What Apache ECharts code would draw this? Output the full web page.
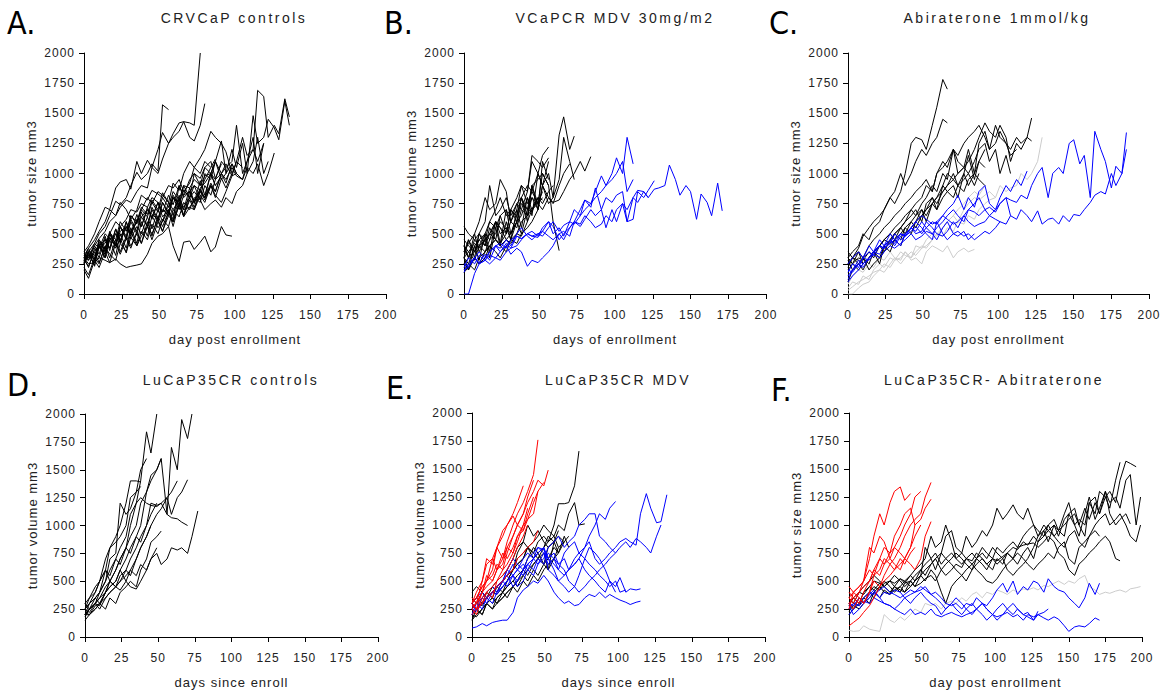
<!DOCTYPE html>
<html><head><meta charset="utf-8">
<script src="https://cdn.jsdelivr.net/npm/echarts@6/dist/echarts.min.js"></script>
<style>
html,body{margin:0;padding:0;background:#fff}
#c{width:1162px;height:690px}
#c svg text{letter-spacing:1px}
#c svg text[style*="14px"]{letter-spacing:2.5px}
#c svg text[style*="32px"]{letter-spacing:0}
</style>
</head><body><div id="c"></div>
<script>
// measurement days (shared by all tumours)
const DAYS = [0,3,7,10,14,17,21,24,28,31,35,38,42,45,49,52,56,59,63,66,70,73,77,80,84,87,91,94,98,101,105,108,112,115,119,122,126,129,133,136,140,143,147,150,154,157,161,164,168,171,175,178,182,185,189,192,196,199];

const X_TICKS = [0,25,50,75,100,125,150,175,200];
const Y_TICKS = [0,250,500,750,1000,1250,1500,1750,2000];

const PANEL_LETTERS = ['A.','B.','C.','D.','E.','F.'];
const PANEL_TITLES = ['CRVCaP controls','VCaPCR MDV 30mg/m2','Abiraterone 1mmol/kg','LuCaP35CR controls','LuCaP35CR MDV','LuCaP35CR- Abitraterone'];
const X_NAMES = ['day post enrollment','days of enrollment','day post enrollment','days since enroll','days since enroll','day post enrollment'];
const Y_NAMES = ['tumor size mm3','tumor volume mm3','tumor size mm3','tumor volume mm3','tumor volume mm3','tumor size mm3'];

// ---- Panel A (black) ----
const A_BLACK = [
 [300,380,450,520,600,700,880,930,950,870,1100,1000,1110,1050,1000,1120,1250,1330,1420,1430,1420,1400,2000],
 [280,350,420,500,560,650,770,740,800,900,1010,950,1000,1080,1020,1570,1530],
 [320,300,400,460,520,600,650,720,780,760,850,900,880,1050,1200,1340,1250,1300,1350,1430,1300,1270,1400,1580],
 [260,340,280,430,370,510,450,600,520,650,600,720,660,780,700,840,760,920,860,1000,1100,1050,1130,1200,1350,1300,1250,1180,1000,1100,1300,1150,1200,1690,1640,1300,1400,1330,1620,1470],
 [300,220,380,300,460,380,540,440,600,500,660,560,720,620,760,680,820,740,900,820,950,1000,960,1050,1000,1100,1270,1000,1200,1050,1250,1000,1480,1250,1300,1450,1380,1280,1600,1400],
 [250,320,260,400,330,470,400,560,480,650,580,700,640,760,680,800,720,850,780,900,880,950,900,980,1000,1100,950,1000,1080,1000,950,1050,1000,1080,900,1000,1170],
 [300,250,260,300,280,260,290,250,220,230,240,250,330,420,480,500,560,400,270,430,440,370,430,480,350,390,560,490,480],
 [220,160,300,250,400,300,450,350,480,400,500,420,600,480,650,560,680,600,800,650,850,760,870,800,1000,900,980],
 [350,400,500,600,720,700,650,760,700,620,700,820,780,860,830,800,900,880,950,850,920,1050,1000,1100,1050,1120],
 [280,350,300,450,380,500,420,560,460,600,500,640,560,700,600,760,660,800,700,820,850,750,880,920,1000,950,1100,1050,1100,1400,1000,1100,1300,1000,1250],
 [330,300,420,380,500,460,400,520,560,500,600,640,700,660,620,700,650,800,760,700,720,780,850,800,900,820,760,850,980,1000],
 [250,350,230,400,300,450,320,500,380,550,420,600,480,650,550,600,700,560,750,640,720,700,820,760,900,800,960,880,1000],
 [300,280,360,400,350,450,500,480,550,520,600,700,800,750,850,820,760,700,780,720,800,850,780,700,750,780,720,800,750,850,900,1000,1100,1300,1000,1100],
 [270,320,290,380,420,500,600,560,620,700,680,750,720,800,760,640,700,620,900,800,850,900,780,1000,950,1100,1000,1050],
 [200,130,280,220,350,260,420,330,460,380,520,420,560,500,620,520,650,600,740,650,780,700,850,800,920,850,1000,950,1050,980,950,1100,1200,1100,1250],
 [320,380,280,450,350,520,400,560,450,620,520,680,560,720,620,760,680,820,740,900,800,1000,900,1050,1100,960,1080],
 [260,330,240,420,300,500,380,460,340,520,400,480,560,450,600,520,680,600,740,650,800,720,860,780,900,850,1000,920,1080,1000],
 [340,280,400,330,480,360,540,420,600,460,560,500,640,540,700,600,760,650,820,700,880,760,940,820,1000,900],
 [280,230,350,260,390,330,280,420,350,470,400,520,450,580,500,620,560,700,640,760,700,800,760,900,820,950,1000,1080,980,1100,1050],
 [300,360,320,400,450,380,500,430,560,480,620,560,700,640,760,680,720,800,740,860,800,900,860,950,1050]
];

// ---- Panel B ----
const B_BLACK = [
 [400,300,450,500,600,900,650,700,800,650,750,700,850,1100,1000,1150,1220],
 [350,420,500,600,800,700,750,950,850,600,700,900,850,1150,1100,1050,1130],
 [200,250,400,450,500,600,700,800,650,700,800,900,750,850,1000,900,750,800,1320,1470,1200,1310],
 [300,350,280,400,450,500,600,550,500,700,650,800,900,850,750,700,800,750,900,1000,1080],
 [250,200,300,250,350,400,450,420,500,600,550,700,650,800,700,900,800,760,780,850,950,1000,1100,1020,1140],
 [450,400,350,400,500,450,600,500,550,450,600,750,700,680,800],
 [560,500,450,400,350,450,500,600,550,500,600,500,700,800,750,1000,900,600,360],
 [300,250,200,300,350,400,450,400,350,450,500,480,600,700,800,750,850,900],
 [250,300,350,450,400,500,600,550,450,500,600,650,800,700,750,800],
 [180,220,300,250,300,400,350,300,400,450,420,500,550,600,700,900,1000,800,950,1300,1100,950],
 [400,350,420,380,450,500,450,400,450,420,500,600,650,700,800,780],
 [300,450,350,500,450,600,550,650,700,600,750,800,700,900,950,1000,900],
 [300,200,400,280,500,350,600,420,700,500,650,800,600,900,700,1100,950],
 [350,450,300,500,400,550,450,650,500,700,600,800,650,900,750,850],
 [400,300,500,350,450,300,550,400,600,450,700,550,800,650,1000,900,1100]
];
const B_BLUE = [
 [200,220,300,260,330,280,400,350,420,380,480,460,500,480,470,520,480,450,500,520,480,600,560,620,700,650,700,800,760,820,850,600,800,860,850,800,870,880,900,1070,950,820,900,850,620,830,760,650,920,690],
 [180,250,300,350,300,350,400,420,380,450,480,460,500,520,480,550,600,560,450,500,550,600,700,780,750,850,980,900,1000,1130,1000,1300,1080],
 [0,0,170,250,280,250,300,280,350,380,400,450,500,480,500,520,600,500,550,480,600,580,650,700,750,800,850,900,950,1000,1100,850,950],
 [250,230,300,250,280,320,300,350,400,330,380,350,230,280,260,300,350,400,500,450,550,600,580,650,600,550,580,650,600,700,750,600,620,850,800,860,940],
 [220,300,250,320,280,350,400,380,450,400,500,550,480,450,500,480,550,600,520,570,600,700,650,780,720,880,700,550,700,600,750,700,800,760,850,800]
];

// ---- Panel C ----
const C_BLACK = [
 [250,300,380,480,550,600,650,700,800,750,850,1000,1250,1300,1280,1200,1400,1550,1780,1700],
 [300,350,400,500,450,550,600,700,800,850,1000,900,1000,1100,1200,1150,1250,1300,1450,1420],
 [300,250,350,300,400,450,500,550,600,650,700,750,800,850,900,950,850,1000,1100,1050,1200,1150,1250,1300,1350,1400,1300,1200,1250,1350,1250,1200,1300,1250,1300,1460],
 [200,250,300,280,350,300,400,450,500,550,600,650,700,750,800,900,850,1000,1050,1100,1200,1000,1050,1100,1200,1300,1420,1350,1300,1400,1300,1100,1250,1200,1300,1270],
 [350,300,280,250,300,350,400,450,420,500,550,600,700,650,750,800,900,850,1000,950,1200,1100,1050,1000,1100,1200,1250,1100,1200,1000,1150,1000],
 [300,250,200,250,300,350,300,400,450,500,550,600,650,700,600,750,800,700,900,1000,950,900,1000,1150,950,1100,1200],
 [280,200,250,300,200,250,300,350,400,450,400,500,550,600,650,700,750,800,850,900,950,1000,1050,1200,1000,1250,1350,1200,1400,1300,1250,1150,1200],
 [220,300,250,200,300,350,250,400,350,450,500,550,500,600,700,650,750,700,800,850,900,800,1000,900,1000,950,900],
 [100,200,250,300,250,350,400,350,450,500,450,550,600,550,650,700,800,750,850,900,1000,900,850,950,1000,1100,1050],
 [250,300,350,250,300,350,400,450,500,450,550,500,600,650,700,600,750,800,900,850,800,900,950,1000,900,1000]
];
const C_BLUE = [
 [120,200,280,250,300,350,330,400,450,420,500,480,520,560,500,550,600,580,650,620,580,600,650,700,680,650,700,720,680,750,800,780,760,820,790,900,1000,1050,800,1000,1050,1000,1250,1280,1080,1150,800,1350,1200,1100,880,1060,1000,1340],
 [150,200,250,220,300,350,400,380,420,500,450,480,550,500,520,600,550,500,480,520,600,550,650,600,560,580,600,650,620,600,580,650,620,700,650,600,690,580,620,630,580,650,600,660,650,700,760,820,850,830,1000,900,1000,1200],
 [100,150,200,250,300,350,400,380,420,450,500,480,550,600,650,620,580,600,650,700,750,820,700,800,720,850,900,750,700,800,900,850,950,900,1020],
 [180,250,220,300,350,320,400,380,450,400,480,500,550,520,600,550,500,550,600,650,700,650,600,700,750,800,700,650,700,750,800,650],
 [200,180,250,300,280,330,300,350,400,380,420,450,500,450,480,520,500,450,550,600,500,520,480,500,450,480,520,500,550,600],
 [250,300,350,300,400,350,450,400,500,450,400,500,550,600,550,500,450,600,500,450,500,480,520,450,500]
];
const C_GRAY = [
 [0,0,50,80,100,150,200,180,250,300,280,350,300,400,380,450,500,480,550,600,650,600,700,750,800,780,820,850,800,900,850,880,900,1000,950,1000,1100,1300],
 [50,100,80,150,120,200,250,220,300,280,350,320,300,350,400,380,450,500,480,550,520,600,580,650,620,700,750,780,800],
 [30,60,100,120,150,180,200,250,220,280,300,350,280,300,250,350,400,380,350,400,300,350,380,350,370],
 [80,150,200,180,250,220,300,280,350,300,250,300,350,320,380,400,450,500,550,600,650,700,750,800,850,820,900]
];

// ---- Panel D ----
const D_BLACK = [
 [250,220,300,350,450,500,600,700,800,1000,1200,1400,1840,1650,2000],
 [200,250,300,350,400,450,500,600,700,800,900,1000,1300,1400,1500,1600,1100,1700,1500,1950,1780,2000],
 [220,200,280,300,400,500,600,700,800,900,1000,1200,1300,1450,1500,1600],
 [180,250,300,280,400,500,450,550,600,700,800,900,1000,1200,1180,1200,1250,1100,1250,1300,1410],
 [200,250,300,250,350,400,450,420,500,600,550,650,600,700,750,650,700,800,780,800,750,900,1130],
 [250,300,350,400,500,600,700,800,900,1100,1200,1250,1200,1180,1170,1200,1100,1070,1060,1030,1000],
 [200,300,400,500,700,800,900,1000,1200,1400,1400,1390],
 [250,350,400,500,600,800,850,900,1000,1250,1300,1350],
 [200,250,300,400,500,700,750,1200,1100,1150,1300,1500,1600],
 [300,350,450,500,600,550,700,650,800,750,900,850,1000,1100,1200],
 [200,200,250,300,350,400,450,500,600,550,700,800,900,1000,1100,1150,1250,1300,1400],
 [150,200,250,300,250,350,300,400,450,500,450,600,700,850,900,950],
 [250,300,350,300,400,450,500,600,500,450,430,500,600,700,800],
 [300,250,350,400,600,500,450,500,550,600,700,800,900,1000]
];

// ---- Panel E ----
const E_RED = [
 [300,350,450,500,600,800,700,850,1000,1100,1200,1300,1450,1760],
 [280,300,400,450,500,600,700,800,900,1000,1100,1200,1300,1400,1350,1490],
 [250,300,500,700,650,800,950,1000,1080,1000,1100,1250,1400],
 [300,250,400,550,500,600,750,700,800,900,1000,1050,1200,1300,1380],
 [320,350,450,500,700,600,650,800,750,900,950,1100,1250],
 [200,250,300,400,450,500,600,650,750,850,1000,1150],
 [350,300,400,500,550,650,600,750,900,1000,950,1050,1100,1300],
 [250,200,350,400,350,500,550,600,700,800,900,1000],
 [300,400,500,650,700,800,900,1000,1100,1200,1350],
 [280,250,300,350,400,450,500,550,600,700,750,800,850,950]
];
const E_BLACK = [
 [200,250,300,350,400,450,500,550,600,650,700,800,750,850,900,850,1000,1190,1190,1200,1350,1660],
 [250,300,280,350,400,380,450,500,600,700,750,800,850,900,1000,950,900,1000,950,1100,1200,1000,1010],
 [300,350,300,400,350,450,400,500,600,750,850,800,700,750,800,850,900,800,850,900],
 [150,200,250,300,350,300,400,450,500,450,550,600,650,700,650,800,850,750,900,800],
 [200,180,250,300,250,350,400,350,450,500,600,550,650,700,750,600,850,900,850],
 [400,450,400,350,300,350,400,450,500,550,600,700,800,750,650,600,700,800],
 [250,300,350,400,450,500,550,600,700,800,850,1000,900,950,850,800,850],
 [300,250,200,300,350,300,350,400,450,500,550,500,600,550,650,700,800,750,850],
 [150,250,200,300,250,300,350,400,450,400,500,450,550,500,600,650,700,750],
 [350,300,400,350,450,400,500,550,600,650,700,800,750,700,800,900,850,950]
];
const E_BLUE = [
 [80,90,120,100,130,140,150,150,220,350,420,450,500,480,550,500,400,350,300,320,280,290,350,380,360,400,350,380,350,330,310,290,310,320],
 [250,300,350,300,400,450,500,600,700,650,600,700,750,800,780,700,650,600,550,600,650,700,600,550,500,450,400,500,450,530,400,430,420,430],
 [200,250,300,350,400,380,450,500,550,600,650,600,700,650,750,700,600,500,550,600,650,700,800,900,1000,1100,1050,1150,1210],
 [250,230,300,350,400,450,500,600,550,500,600,650,700,750,800,700,750,650,700,600,700,750,800,850,700,650,700,750,800,850,880,850,820,1100,1280,1150,1020,1030,1270],
 [300,250,350,400,450,400,500,550,650,600,700,750,700,800,750,650,700,600,750,800,850,750,700,650,600,550,500,450,500,400,420],
 [200,300,250,350,300,400,450,500,550,450,500,600,550,650,700,800,850,900,800,850,900,1000,1050,1100,1100,900,850,800,750],
 [280,250,300,350,400,450,500,450,550,600,550,650,600,700,650,750,700,650,600,500,450,400,450,500,550,600,650,700,750,800,850,800,880,850,800,750,900,1000],
 [300,350,400,350,400,450,500,550,450,500,600,650,700,750,800,600,550,500,450,400,450,550,700,800,750,700,600,500,400]
];

// ---- Panel F ----
const F_RED = [
 [100,130,170,220,280,350,450,550,650,700,800,900,1000,1050,1100,1250,1380],
 [400,350,300,400,500,600,700,800,750,900,1000,1100,1150,1000,1050,1150,1230],
 [350,400,450,500,600,550,700,650,750,800,750,700,650,600,700,900,1030],
 [300,350,400,500,700,900,1100,1000,1200,1300,1340,1220,1280],
 [250,400,450,500,800,750,900,850,700,650,600,700,800,900,1000],
 [350,300,400,450,500,600,550,650,700,800,900,1000,1100,1250,1300],
 [450,400,350,300,400,550,600,700,650,600,700,650,750,800],
 [300,250,350,300,400,500,450,500,550,600,650,700,800,1000]
];
const F_BLACK = [
 [250,300,280,350,400,450,420,480,500,450,520,480,550,600,650,700,900,800,850,1000,850,700,750,900,800,850,950,900,1000,1150,1050,1100,1180,1100,1050,1150,1000,950,900,1000,1050,950,1100,1200,1000,900,1100,1250,1050,1150,1300,1200,1250,1150,1400,1450,1000,1250],
 [300,250,350,300,400,350,450,400,380,420,450,400,500,450,480,520,550,500,600,550,600,650,620,700,680,750,700,650,700,680,720,750,800,780,850,820,900,850,950,1000,900,950,1000,1050,1100,1000,1150,1050,1200,1100,1250,1300,1200,1400,1570,1550,1520],
 [280,350,300,400,450,500,480,450,500,550,500,450,500,550,600,650,700,750,650,700,750,700,650,700,750,700,800,750,700,800,750,800,850,800,900,950,1000,900,950,850,1000,950,900,1100,1000,1050,1000,1200,1100,1300,1250,1150,1400,1560],
 [230,280,250,300,350,400,350,420,380,450,400,480,500,450,550,500,600,550,400,300,450,500,550,600,650,700,650,600,700,650,700,750,700,800,820,830,840,800,850,900,850,750,700,600,550,650,700,750,800,850,900,850,700,680],
 [350,300,400,450,500,550,500,450,500,480,520,500,450,500,550,800,700,600,750,700,650,600,550,500,600,650,700,650,600,700,650,750,700,650,750,800,700,850,900,950,900,850,800,900,950,850,800,900,1000,1050,1100,1000,1050,1100,1000,900,850,1000],
 [200,250,300,350,300,400,450,500,450,400,450,500,550,500,600,550,650,700,600,650,700,750,700,650,600,700,750,700,800,750,700,600,550,600,650,700,800,900,1000,950,1000,900,1050,1100,1150,1000,900,1200,1250,1100,1300,1100,1000,1050,1100,1010],
 [300,350,400,380,450,420,480,450,400,450,420,400,450,500,550,600,650,700,750,900,950,800,750,700,650,600,550,500,480,520,600,650,700,750,700,650,600,650,700,750,700,800,850,700,650,800,850,900,950,900]
];
const F_BLUE = [
 [300,280,350,300,380,420,350,400,380,420,400,350,380,400,420,450,380,400,350,300,280,300,250,300,280,350,300,280,350,420,480,400,500,380,450,420,500,480,400,520,450,420,400,350,300,260,350,480,380,480],
 [250,300,280,320,300,350,320,300,280,250,220,200,250,200,220,200,250,200,180,200,220,200,180,200,220,250,200,150,200,180,200,220,180,200,150,200,180,200,170,150,180,160,100,50,90,100,90,120,170,150],
 [200,250,300,350,400,380,420,450,400,380,350,380,420,400,450,420,380,350,300,250,300,250,200,250,300,250,300,250,200,150,200,250,300,250,200,180,150,200,220,250],
 [280,200,250,300,350,400,350,300,280,250,300,350,300,350,400,350,300,280,200,250,300,350,300,250,200,250,300,250,200,250,300,250,200,250,200,220,150,230]
];
const F_GRAY = [
 [60,50,55,100,70,60,50,200,150,130,180,150,200,250,220,300,280,300,250,300,320,300,350,320,380,400,350,400,380,420,400,380,420,400,430,420,440,420,460,450,480,500,470,500,480,520,550,450,420,380,400,390,410,420,400,430,440,450]
];

const COLORS = {black:'#000000', blue:'#0000ff', red:'#ff0000', gray:'#cccccc'};

const PANELS = [
 [['black',A_BLACK]],
 [['black',B_BLACK],['blue',B_BLUE]],
 [['gray',C_GRAY],['black',C_BLACK],['blue',C_BLUE]],
 [['black',D_BLACK]],
 [['black',E_BLACK],['blue',E_BLUE],['red',E_RED]],
 [['gray',F_GRAY],['black',F_BLACK],['blue',F_BLUE],['red',F_RED]]
];

const GRIDS = [
 {left:84, top:53, width:302, height:241},
 {left:464, top:53, width:302, height:241},
 {left:848, top:53, width:302, height:241},
 {left:85, top:414, width:293, height:224},
 {left:472, top:413, width:293, height:224},
 {left:849, top:413, width:293, height:224}
];
const LETTER_POS = [[7,23],[384,23],[769,23],[7,385],[386,388],[771,390]];
const TITLE_POS = [[234,18],[615,18],[997,18],[231,380],[618,380],[994,380]];

const FONT = 'Liberation Sans, Arial, sans-serif';
const xAxes = [], yAxes = [], series = [], graphics = [];
GRIDS.forEach((g, k) => {
  xAxes.push({gridIndex:k, type:'value', min:X_TICKS[0], max:X_TICKS[X_TICKS.length-1], interval:X_TICKS[1]-X_TICKS[0],
    name:X_NAMES[k], nameLocation:'middle', nameGap:39,
    nameTextStyle:{fontFamily:FONT, fontSize:13, color:'#222'},
    axisLine:{show:true, lineStyle:{color:'#000', width:1}},
    axisTick:{show:true, length:5, lineStyle:{color:'#000'}},
    splitLine:{show:false},
    axisLabel:{fontFamily:FONT, fontSize:12, color:'#222', margin:15, formatter:v => String(v)}});
  yAxes.push({gridIndex:k, type:'value', min:Y_TICKS[0], max:Y_TICKS[Y_TICKS.length-1], interval:Y_TICKS[1]-Y_TICKS[0],
    name:Y_NAMES[k], nameLocation:'middle', nameGap:46,
    nameTextStyle:{fontFamily:FONT, fontSize:13, color:'#222'},
    axisLine:{show:true, lineStyle:{color:'#000', width:1}},
    axisTick:{show:true, length:5, lineStyle:{color:'#000'}},
    splitLine:{show:false},
    axisLabel:{fontFamily:FONT, fontSize:12, color:'#222', margin:9, formatter:v => String(v)}});
  PANELS[k].forEach(([col, lines]) => {
    lines.forEach((ys, j) => {
      series.push({type:'line', xAxisIndex:k, yAxisIndex:k, name:PANEL_TITLES[k]+' '+col+' '+(j+1),
        data: ys.map((y, i) => [DAYS[i], y]),
        showSymbol:false, symbol:'none', silent:true, clip:true,
        lineStyle:{color:COLORS[col], width:1}, itemStyle:{color:COLORS[col]}});
    });
  });
  graphics.push({type:'text', x:LETTER_POS[k][0], y:LETTER_POS[k][1],
    style:{text:PANEL_LETTERS[k], font:'32px "Liberation Sans Narrow", "DejaVu Sans Condensed", sans-serif', fill:'#000', align:'left', verticalAlign:'middle'}});
  graphics.push({type:'text', x:TITLE_POS[k][0], y:TITLE_POS[k][1],
    style:{text:PANEL_TITLES[k], font:'14px '+FONT, fill:'#222', align:'center', verticalAlign:'middle'}});
});

const chart = echarts.init(document.getElementById('c'), null, {renderer:'svg'});
chart.setOption({
  animation:false,
  grid: GRIDS,
  xAxis: xAxes,
  yAxis: yAxes,
  series: series,
  graphic: graphics
});
</script></body></html>
